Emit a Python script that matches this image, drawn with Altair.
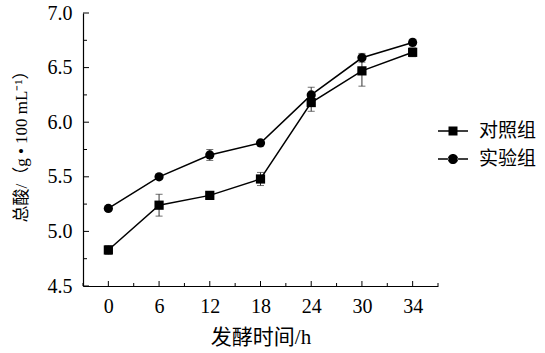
import altair as alt
import pandas as pd

# ---- data ----
hours = [0, 6, 12, 18, 24, 30, 34]
series_names = ["对照组", "实验组"]
control = [4.83, 5.24, 5.33, 5.48, 6.18, 6.47, 6.64]
control_err = [0.04, 0.10, 0.02, 0.06, 0.08, 0.14, 0.04]
experiment = [5.21, 5.50, 5.70, 5.81, 6.25, 6.59, 6.73]
experiment_err = [0.02, 0.02, 0.05, 0.02, 0.07, 0.04, 0.03]

y_major = [4.5, 5.0, 5.5, 6.0, 6.5, 7.0]
y_minor = [4.75, 5.25, 5.75, 6.25, 6.75]
x_major = list(range(len(hours)))
x_minor = [i - 0.5 for i in range(len(hours) + 1)]

rows = []
for name, vals, errs in [(series_names[0], control, control_err),
                         (series_names[1], experiment, experiment_err)]:
    for i, (v, e) in enumerate(zip(vals, errs)):
        rows.append({"idx": i, "hour": hours[i], "series": name,
                     "value": v, "lo": v - e, "hi": v + e})
df = pd.DataFrame(rows)

W, H = 355, 273
SERIF = "Liberation Serif"
MIXED = "Liberation Serif, Noto Sans CJK SC"

x_scale = alt.Scale(domain=[-0.5, len(hours) - 0.5], nice=False, zero=False)
y_scale = alt.Scale(domain=[4.5, 7.0], nice=False, zero=False)

label_expr = "[" + ",".join(f"'{h}'" for h in hours) + "][datum.value]"

x_axis = alt.Axis(values=x_major, labelExpr=label_expr, ticks=False, tickSize=0,
                  grid=False, domainColor="black", domainWidth=1.2,
                  labelFont=SERIF, labelFontSize=20, labelColor="black",
                  labelPadding=10, labelFlush=False, labelOverlap=False,
                  title="发酵时间/h", titleFont=MIXED, titleFontSize=21,
                  titleFontWeight="normal", titleColor="black",
                  titleY=51, titleBaseline="middle")
y_axis = alt.Axis(values=y_major, format=".1f", ticks=False, tickSize=0,
                  grid=False, domainColor="black", domainWidth=1.2,
                  labelFont=SERIF, labelFontSize=20, labelColor="black",
                  labelPadding=11, labelOverlap=False,
                  title="总酸/（g • 100 mL⁻¹）", titleFont=MIXED, titleFontSize=17,
                  titleFontWeight="normal", titleColor="black",
                  titleX=-53, titleY=129)

X = alt.X("idx:Q", scale=x_scale, axis=x_axis)

base = alt.Chart(df)

errbars = base.mark_rule(color="#333333", strokeWidth=1).encode(
    x=X, y=alt.Y("lo:Q", scale=y_scale, axis=y_axis), y2="hi:Q")
cap_lo = base.mark_tick(orient="horizontal", color="#333333", size=7, thickness=1).encode(
    x=X, y=alt.Y("lo:Q", scale=y_scale, axis=y_axis))
cap_hi = base.mark_tick(orient="horizontal", color="#333333", size=7, thickness=1).encode(
    x=X, y=alt.Y("hi:Q", scale=y_scale, axis=y_axis))

lines = base.mark_line(color="black", strokeWidth=1.5).encode(
    x=X, y=alt.Y("value:Q", scale=y_scale, axis=y_axis), detail="series:N")

points = base.mark_point(filled=True, color="black", opacity=1, size=85).encode(
    x=X, y=alt.Y("value:Q", scale=y_scale, axis=y_axis),
    shape=alt.Shape("series:N", scale=alt.Scale(domain=series_names, range=["square", "circle"]),
                    legend=None))

path_sq = "M-1,-0.055H-0.3V0.055H-1Z M0.3,-0.055H1V0.055H0.3Z M-0.3,-0.3H0.3V0.3H-0.3Z"
path_ci = ("M-1,-0.055H-0.3V0.055H-1Z M0.3,-0.055H1V0.055H0.3Z "
           "M-0.34,0A0.34,0.34 0 1,0 0.34,0A0.34,0.34 0 1,0 -0.34,0Z")

legend_layer = base.transform_filter("false").mark_point(filled=True, color="black", opacity=1).encode(
    x=X, y=alt.Y("value:Q", scale=y_scale, axis=y_axis),
    shape=alt.Shape("series:N", scale=alt.Scale(domain=series_names, range=[path_sq, path_ci]),
                    legend=alt.Legend(orient="none", legendX=355, legendY=103, title=None,
                                      labelFont="Noto Sans CJK SC", labelFontSize=19,
                                      labelColor="black", symbolSize=900,
                                      symbolFillColor="black", symbolStrokeWidth=0,
                                      symbolOpacity=1, labelOffset=11, rowPadding=3,
                                      padding=0)))

ytick_major = alt.Chart(pd.DataFrame({"v": y_major})).mark_rule(color="black", strokeWidth=1).encode(
    y=alt.Y("v:Q", scale=y_scale, axis=y_axis), x=alt.value(0), x2=alt.value(6))
ytick_minor = alt.Chart(pd.DataFrame({"v": y_minor})).mark_rule(color="black", strokeWidth=1).encode(
    y=alt.Y("v:Q", scale=y_scale, axis=y_axis), x=alt.value(0), x2=alt.value(4))
xtick_major = alt.Chart(pd.DataFrame({"idx": x_major})).mark_rule(color="black", strokeWidth=1).encode(
    x=X, y=alt.value(H), y2=alt.value(H - 5))
xtick_minor = alt.Chart(pd.DataFrame({"idx": x_minor})).mark_rule(color="black", strokeWidth=1).encode(
    x=X, y=alt.value(H), y2=alt.value(H - 3))

chart = alt.layer(
    ytick_major, ytick_minor, xtick_major, xtick_minor,
    errbars, cap_lo, cap_hi, lines, points, legend_layer
).resolve_scale(shape="independent").properties(
    width=W, height=H,
    autosize=alt.AutoSizeParams(type="none"),
    padding={"left": 83, "top": 13, "right": 107, "bottom": 67},
    background="white",
).configure_view(stroke=None)

chart.save("out.html", embed_options={"renderer": "svg", "actions": False})
